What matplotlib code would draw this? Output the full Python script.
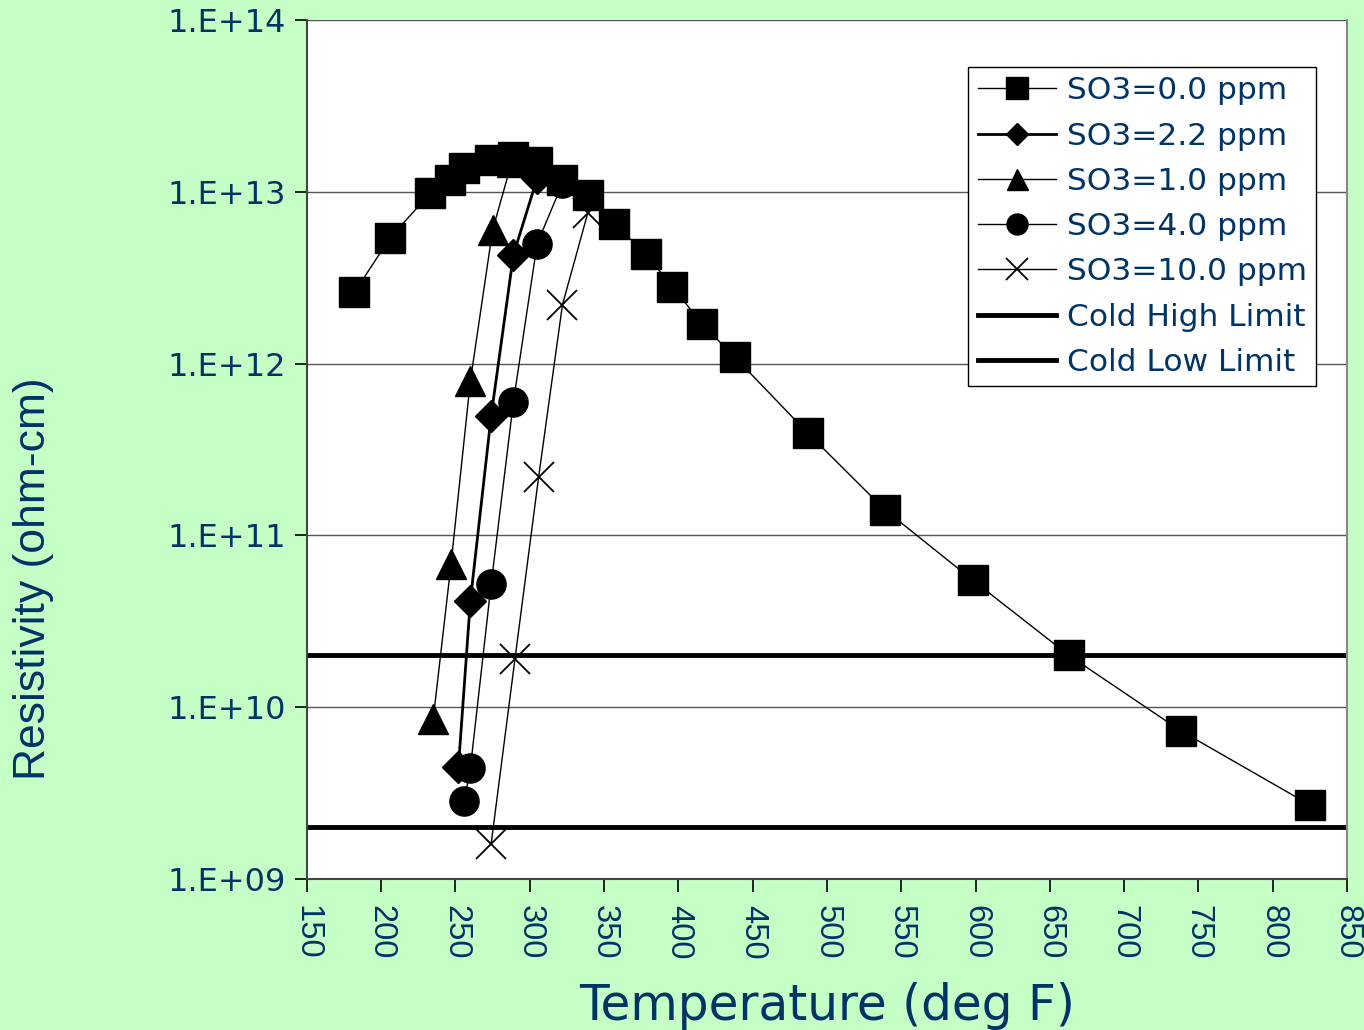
import numpy as np
import matplotlib
matplotlib.use("Agg")
import matplotlib.pyplot as plt
from matplotlib.ticker import FixedLocator, FuncFormatter

plt.rcParams['font.family'] = ['DejaVu Sans']

navy = '#003366'
bg = '#C6FFC6'

# SO3 = 0.0 ppm
t_00 = [182, 206, 233, 246, 256, 273, 289, 305, 322, 339, 357, 378, 396, 416, 438, 487, 539, 598, 663, 738, 825]
r_00 = [2.6e12, 5.4e12, 9.8e12, 1.17e13, 1.38e13, 1.53e13, 1.6e13, 1.49e13, 1.17e13, 9.6e12, 6.5e12,
        4.35e12, 2.8e12, 1.7e12, 1.09e12, 3.95e11, 1.41e11, 5.5e10, 2.0e10, 7.3e9, 2.7e9]
# SO3 = 2.2 ppm
t_22 = [252, 260, 274, 289, 305]
r_22 = [4.5e9, 4.15e10, 4.95e11, 4.3e12, 1.2e13]
# SO3 = 1.0 ppm
t_10 = [235, 247, 260, 275, 288]
r_10 = [8.5e9, 6.8e10, 7.9e11, 6.0e12, 1.5e13]
# SO3 = 4.0 ppm
t_40 = [256, 260, 274, 289, 305, 322]
r_40 = [2.85e9, 4.4e9, 5.2e10, 6.0e11, 5.0e12, 1.12e13]
# SO3 = 10.0 ppm
t_100 = [274, 290, 306, 322, 339]
r_100 = [1.6e9, 1.9e10, 2.2e11, 2.2e12, 7.5e12]

cold_high = 2.0e10
cold_low = 2.0e9
x_range = [150, 850]

fig = plt.figure(figsize=(13.64, 10.30), dpi=100, facecolor=bg)
ax = fig.add_axes([0.225, 0.1466, 0.7625, 0.834])
ax.set_facecolor('white')

ax.plot(t_00, r_00, color='black', lw=1.0, marker='s', ms=22, mfc='black', mec='black', label='SO3=0.0 ppm', zorder=3)
ax.plot(t_22, r_22, color='black', lw=2.0, marker='D', ms=16, mfc='black', mec='black', label='SO3=2.2 ppm', zorder=4)
ax.plot(t_10, r_10, color='black', lw=1.0, marker='^', ms=21, mfc='black', mec='black', label='SO3=1.0 ppm', zorder=4)
ax.plot(t_40, r_40, color='black', lw=1.0, marker='o', ms=21, mfc='black', mec='black', label='SO3=4.0 ppm', zorder=4)
ax.plot(t_100, r_100, color='black', lw=1.0, marker='x', ms=22, mew=1.3, label='SO3=10.0 ppm', zorder=4)
ax.plot(x_range, [cold_high, cold_high], color='black', lw=3.5, label='Cold High Limit', zorder=2)
ax.plot(x_range, [cold_low, cold_low], color='black', lw=3.5, label='Cold Low Limit', zorder=2)

ax.set_yscale('log')
ax.set_ylim(1e9, 1e14)
ax.set_xlim(150, 850)
ax.yaxis.set_major_locator(FixedLocator([1e9, 1e10, 1e11, 1e12, 1e13, 1e14]))
ax.yaxis.set_minor_locator(FixedLocator([]))
ax.yaxis.set_major_formatter(FuncFormatter(lambda v, p: '1.E+%02d' % int(round(np.log10(v)))))
ax.set_xticks(np.arange(150, 851, 50))
ax.grid(axis='y', color='#555555', lw=1.0, zorder=1)
ax.set_axisbelow(True)

ax.tick_params(axis='both', direction='out', length=9, width=1.2, colors='black', labelcolor=navy)
ax.tick_params(axis='y', labelsize=23, pad=6)
ax.tick_params(axis='x', labelrotation=270, pad=10)
for lab in ax.get_xticklabels():
    lab.set_va('top')
    lab.set_fontfamily('Liberation Sans')
    lab.set_fontsize(23.5)
ax.spines['top'].set_visible(False)
for s in ['left', 'bottom']:
    ax.spines[s].set_color('#444444')
    ax.spines[s].set_linewidth(1.5)
ax.spines['right'].set_color('#888888')
ax.spines['right'].set_linewidth(1.5)

ax.set_xlabel('Temperature (deg F)', fontsize=35, color=navy)
ax.xaxis.set_label_coords(0.5, -0.12)
ax.set_ylabel('Resistivity (ohm-cm)', fontsize=32, color=navy, fontfamily='Liberation Sans')
ax.yaxis.set_label_coords(-0.243, 0.35)

leg = ax.legend(loc='upper right', bbox_to_anchor=(0.9648, 0.935), bbox_transform=fig.transFigure,
                fontsize=22.5, frameon=True, fancybox=False, edgecolor='black', framealpha=1,
                handlelength=2.5, handletextpad=0.35, labelspacing=0.52, borderpad=0.3,
                markerscale=0.72, borderaxespad=0)
leg.get_frame().set_linewidth(1.0)
for txt in leg.get_texts():
    txt.set_color(navy)

fig.savefig('out.png', dpi=100, facecolor=bg)
